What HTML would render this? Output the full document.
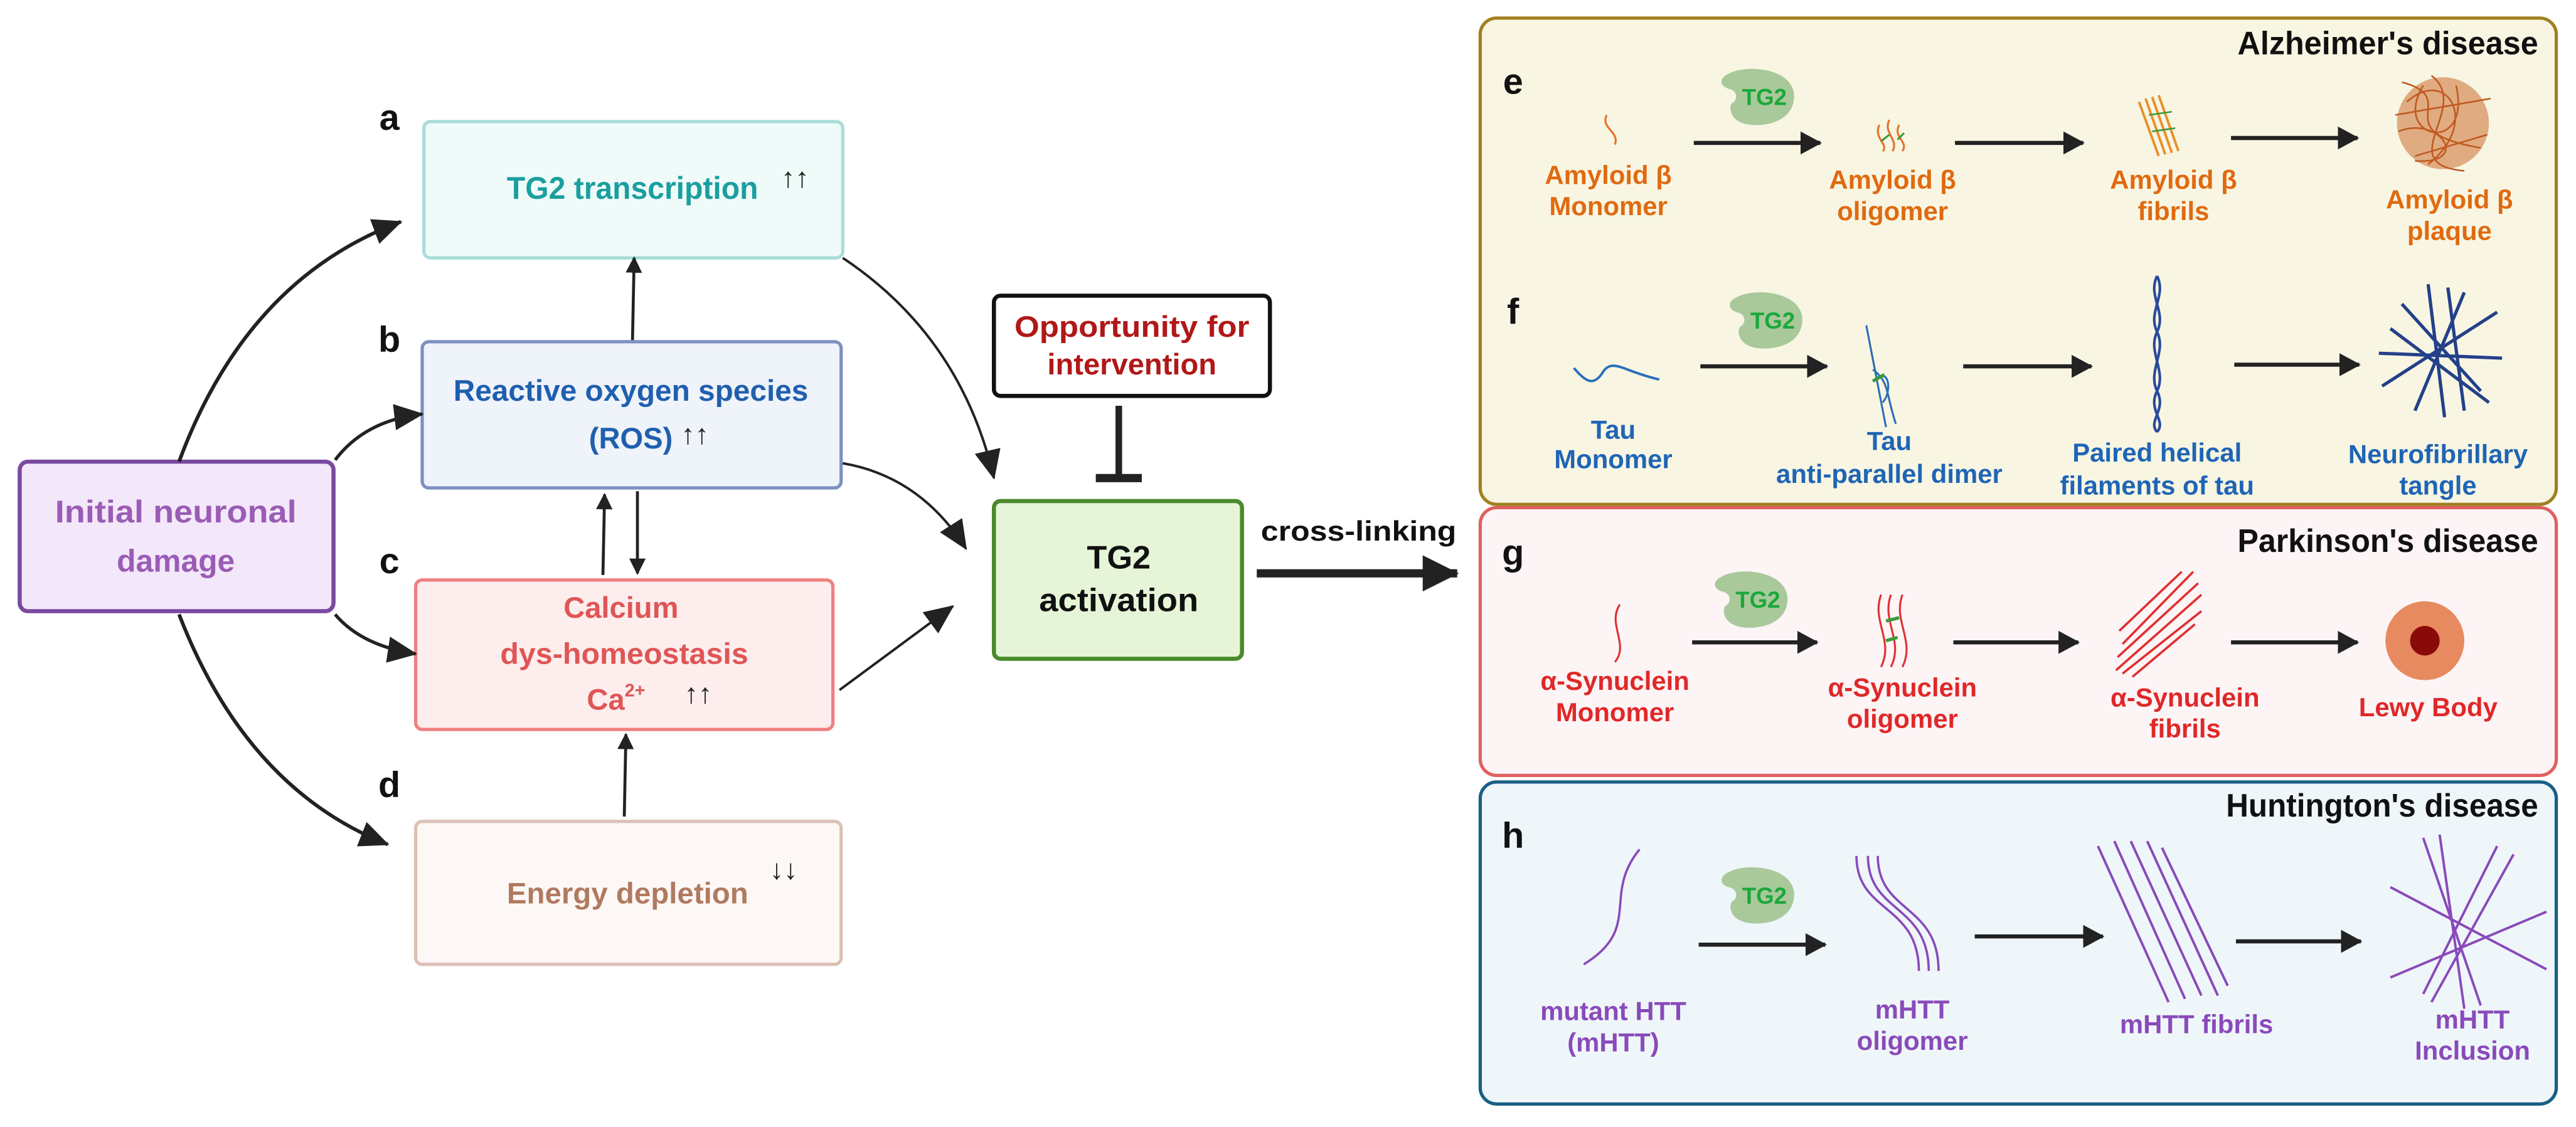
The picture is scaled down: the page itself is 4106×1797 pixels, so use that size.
<!DOCTYPE html>
<html><head><meta charset="utf-8"><style>
html,body{margin:0;padding:0;background:#fff;width:4106px;height:1797px;overflow:hidden}
svg{display:block}
text{font-family:"Liberation Sans",sans-serif;font-weight:bold}
</style></head><body>
<svg width="4106" height="1797" viewBox="0 0 1568 686" preserveAspectRatio="none" xmlns="http://www.w3.org/2000/svg">
<defs>
<marker id="ah" markerUnits="userSpaceOnUse" markerWidth="18" markerHeight="16" refX="17" refY="8" orient="auto"><path d="M0,0 L18,8 L0,16 Z" fill="#222"/></marker>
<marker id="as" markerUnits="userSpaceOnUse" markerWidth="10" markerHeight="10" refX="9" refY="5" orient="auto"><path d="M0,0 L10,5 L0,10 Z" fill="#222"/></marker>
<marker id="al" markerUnits="userSpaceOnUse" markerWidth="13" markerHeight="14" refX="12" refY="7" orient="auto"><path d="M0,0 L13,7 L0,14 Z" fill="#222"/></marker>
<marker id="ax" markerUnits="userSpaceOnUse" markerWidth="22" markerHeight="22" refX="21" refY="11" orient="auto"><path d="M0,0 L22,11 L0,22 Z" fill="#222"/></marker>
<g id="tg2"><path d="M-18,-14 C-8,-20 20,-18 22,-2 C23,12 10,18 -4,17 C-16,16 -18,8 -16,4 C-12,2 -12,-4 -18,-5 C-24,-7 -23,-12 -18,-14 Z" fill="#a9c99b"/><text x="4" y="5" font-size="14" fill="#1aa83a" text-anchor="middle">TG2</text></g>
</defs>

<!-- left boxes -->
<rect x="12" y="281" width="191" height="91" rx="5" fill="#f3e7fa" stroke="#7a4aa0" stroke-width="2.5"/>
<text x="107" y="318" font-size="19" fill="#9a5cb5" text-anchor="middle" textLength="147" lengthAdjust="spacingAndGlyphs">Initial neuronal</text>
<text x="107" y="348" font-size="19" fill="#9a5cb5" text-anchor="middle">damage</text>

<rect x="258" y="74" width="255" height="83" rx="4" fill="#effbf9" stroke="#a8ddd8" stroke-width="2"/>
<text x="385" y="121" font-size="19" fill="#1a9fa0" text-anchor="middle" textLength="153" lengthAdjust="spacingAndGlyphs">TG2 transcription</text>
<text x="484" y="114" font-size="17" fill="#222" text-anchor="middle">↑↑</text>

<rect x="257" y="208" width="255" height="89" rx="4" fill="#eff3fa" stroke="#7d91c0" stroke-width="2"/>
<text x="384" y="244" font-size="18" fill="#1f5fae" text-anchor="middle" textLength="216" lengthAdjust="spacingAndGlyphs">Reactive oxygen species</text>
<text x="384" y="273" font-size="18" fill="#1f5fae" text-anchor="middle">(ROS)</text>
<text x="423" y="270" font-size="17" fill="#222" text-anchor="middle">↑↑</text>

<rect x="253" y="353" width="254" height="91" rx="4" fill="#fdeded" stroke="#f08080" stroke-width="2"/>
<text x="378" y="376" font-size="18" fill="#e05555" text-anchor="middle">Calcium</text>
<text x="380" y="404" font-size="18" fill="#e05555" text-anchor="middle" textLength="151" lengthAdjust="spacingAndGlyphs">dys-homeostasis</text>
<text x="375" y="432" font-size="18" fill="#e05555" text-anchor="middle">Ca<tspan font-size="11" dy="-8">2+</tspan></text>
<text x="425" y="428" font-size="17" fill="#222" text-anchor="middle">↑↑</text>

<rect x="253" y="500" width="259" height="87" rx="4" fill="#fdf8f6" stroke="#dcc0b5" stroke-width="2"/>
<text x="382" y="550" font-size="18" fill="#b07a60" text-anchor="middle" textLength="147" lengthAdjust="spacingAndGlyphs">Energy depletion</text>
<text x="477" y="535" font-size="17" fill="#222" text-anchor="middle">↓↓</text>

<text x="237" y="79" font-size="22" fill="#111" text-anchor="middle">a</text>
<text x="237" y="214" font-size="22" fill="#111" text-anchor="middle">b</text>
<text x="237" y="349" font-size="22" fill="#111" text-anchor="middle">c</text>
<text x="237" y="485" font-size="22" fill="#111" text-anchor="middle">d</text>

<!-- arrows left -->
<g fill="none" stroke="#222">
<path d="M109,281 Q150,170 244,135" stroke-width="2.2" marker-end="url(#ah)"/>
<path d="M204,280 Q222,256 257,252" stroke-width="2" marker-end="url(#ah)"/>
<path d="M204,374 Q220,393 253,398" stroke-width="2" marker-end="url(#ah)"/>
<path d="M109,374 Q150,480 236,514" stroke-width="2.2" marker-end="url(#ah)"/>
<path d="M513,157 Q585,205 605,291" stroke-width="1.5" marker-end="url(#ah)"/>
<path d="M513,282 Q560,290 588,334" stroke-width="1.5" marker-end="url(#ah)"/>
<path d="M511,420 L580,369" stroke-width="1.5" marker-end="url(#ah)"/>
<path d="M385,207 L386,157" stroke-width="1.8" marker-end="url(#as)"/>
<path d="M367,350 L368,301" stroke-width="1.8" marker-end="url(#as)"/>
<path d="M388,299 L388,349" stroke-width="1.8" marker-end="url(#as)"/>
<path d="M380,497 L381,447" stroke-width="1.8" marker-end="url(#as)"/>
<path d="M681,247 L681,290" stroke-width="4"/>
<path d="M667,291 L695,291" stroke-width="5"/>
<path d="M765,349 L887,349" stroke-width="5" marker-end="url(#ax)"/>
</g>

<rect x="605" y="180" width="168" height="61" rx="4" fill="#fff" stroke="#111" stroke-width="2.5"/>
<text x="689" y="205" font-size="18" fill="#b01818" text-anchor="middle" textLength="143" lengthAdjust="spacingAndGlyphs">Opportunity for</text>
<text x="689" y="228" font-size="18" fill="#b01818" text-anchor="middle">intervention</text>

<rect x="605" y="305" width="151" height="96" rx="4" fill="#e6f5d8" stroke="#4a8a2a" stroke-width="2.5"/>
<text x="681" y="346" font-size="20" fill="#111" text-anchor="middle">TG2</text>
<text x="681" y="372" font-size="20" fill="#111" text-anchor="middle" textLength="97" lengthAdjust="spacingAndGlyphs">activation</text>
<text x="827" y="329" font-size="17" fill="#111" text-anchor="middle" textLength="119" lengthAdjust="spacingAndGlyphs">cross-linking</text>

<!-- panels -->
<rect x="901" y="11" width="655" height="296" rx="10" fill="#f8f6e3" stroke="#a08020" stroke-width="2"/>
<rect x="901" y="309" width="655" height="163" rx="10" fill="#fdf4f6" stroke="#e06060" stroke-width="2"/>
<rect x="901" y="476" width="655" height="196" rx="10" fill="#eef6fa" stroke="#1a5e85" stroke-width="2"/>

<text x="1545" y="33" font-size="20" fill="#111" text-anchor="end" textLength="183" lengthAdjust="spacingAndGlyphs">Alzheimer's disease</text>
<text x="1545" y="336" font-size="20" fill="#111" text-anchor="end" textLength="183" lengthAdjust="spacingAndGlyphs">Parkinson's disease</text>
<text x="1545" y="497" font-size="20" fill="#111" text-anchor="end" textLength="190" lengthAdjust="spacingAndGlyphs">Huntington's disease</text>
<text x="921" y="57" font-size="22" fill="#111" text-anchor="middle">e</text>
<text x="921" y="197" font-size="22" fill="#111" text-anchor="middle">f</text>
<text x="921" y="344" font-size="22" fill="#111" text-anchor="middle">g</text>
<text x="921" y="516" font-size="22" fill="#111" text-anchor="middle">h</text>

<use href="#tg2" x="1070" y="59"/>
<use href="#tg2" x="1075" y="195"/>
<use href="#tg2" x="1066" y="365"/>
<use href="#tg2" x="1070" y="545"/>

<g fill="none" stroke="#222" stroke-width="2.5">
<path d="M1031,87 L1108,87" marker-end="url(#al)"/>
<path d="M1190,87 L1268,87" marker-end="url(#al)"/>
<path d="M1358,84 L1435,84" marker-end="url(#al)"/>
<path d="M1035,223 L1112,223" marker-end="url(#al)"/>
<path d="M1195,223 L1273,223" marker-end="url(#al)"/>
<path d="M1360,222 L1436,222" marker-end="url(#al)"/>
<path d="M1030,391 L1106,391" marker-end="url(#al)"/>
<path d="M1189,391 L1265,391" marker-end="url(#al)"/>
<path d="M1358,391 L1435,391" marker-end="url(#al)"/>
<path d="M1034,575 L1111,575" marker-end="url(#al)"/>
<path d="M1202,570 L1280,570" marker-end="url(#al)"/>
<path d="M1361,573 L1437,573" marker-end="url(#al)"/>
</g>

<!-- icons -->
<g fill="none" stroke-width="1.2">
<path d="M978,70 C974,78 986,80 983,88" stroke="#e8702a"/>
<path d="M1144,76 C1140,84 1150,88 1146,92 M1150,73 C1146,81 1156,85 1152,92 M1156,76 C1152,84 1162,86 1158,92" stroke="#e8702a"/>
<path d="M1145,86 L1150,82 M1155,85 L1159,81" stroke="#3a9a3a"/>
<g stroke="#e8902a" stroke-width="1.5"><path d="M1306,60 L1318,94 M1310,59 L1322,93 M1314,58 L1326,92 M1302,62 L1314,95"/></g>
<path d="M1308,70 L1322,68 M1310,80 L1324,78" stroke="#3a9a3a" stroke-width="1"/>
<ellipse cx="1487" cy="75" rx="28" ry="28" fill="#d07a40" opacity="0.6" stroke="none"/>
<g stroke="#c05a20" stroke-width="1"><path d="M1462,50 C1500,60 1450,80 1510,90 M1465,62 C1490,40 1510,75 1478,100 M1475,52 C1455,85 1505,95 1495,52 M1460,80 C1485,70 1505,100 1470,98 M1480,46 C1505,65 1455,100 1500,104 M1458,70 L1516,60 M1470,95 L1514,82"/></g>
<path d="M958,224 C965,232 970,236 976,226 C982,218 988,226 1010,231" stroke="#2a6fba" stroke-width="1.5"/>
<path d="M1136,198 L1148,260 M1140,225 C1150,232 1148,240 1154,258 M1140,232 C1150,222 1152,238 1146,245" stroke="#2a6fba"/>
<path d="M1140,232 L1147,228" stroke="#3a9a3a" stroke-width="2"/>
<path d="M1313,168 C1319,180 1307,190 1313,202 C1319,214 1307,226 1313,238 C1319,250 1307,256 1313,263 M1313,168 C1307,180 1319,190 1313,202 C1307,214 1319,226 1313,238 C1307,250 1319,256 1313,263" stroke="#2a4a9a" stroke-width="1.6"/>
<g stroke="#24408a" stroke-width="2"><path d="M1478,173 L1488,254 M1455,200 L1515,245 M1450,235 L1520,190 M1500,178 L1470,250 M1448,215 L1523,218 M1462,185 L1510,238 M1490,175 L1500,250"/></g>
<path d="M986,368 C978,380 992,392 983,403" stroke="#e03030"/>
<path d="M1145,362 C1139,378 1153,390 1145,406 M1151,362 C1145,378 1159,390 1151,406 M1158,362 C1152,378 1166,390 1158,406" stroke="#e03030"/>
<path d="M1148,378 L1156,376 M1148,390 L1155,388" stroke="#3a9a3a" stroke-width="2"/>
<g stroke="#e03030" stroke-width="1.4"><path d="M1292,392 L1335,348 M1289,400 L1338,355 M1288,408 L1340,362 M1292,410 L1340,372 M1298,412 L1336,380 M1290,384 L1328,348"/></g>
<circle cx="1476" cy="390" r="24" fill="#e88a60" stroke="none"/>
<circle cx="1476" cy="390" r="9" fill="#8a0a0a" stroke="none"/>
<path d="M998,517 C975,545 1000,565 964,587" stroke="#8a4aba" stroke-width="1.4"/>
<path d="M1130,521 C1130,556 1168,550 1168,591 M1137,521 C1137,556 1174,550 1174,591 M1143,521 C1143,556 1180,550 1180,591" stroke="#8a4aba" stroke-width="1.4"/>
<g stroke="#8a4aba" stroke-width="1.5"><path d="M1277,515 L1320,610 M1287,512 L1330,608 M1297,512 L1340,606 M1307,512 L1350,606 M1316,516 L1356,600"/></g>
<g stroke="#8a4aba" stroke-width="1.5"><path d="M1475,510 L1510,612 M1485,508 L1500,614 M1455,540 L1550,590 M1455,595 L1550,555 M1530,520 L1480,610 M1520,515 L1475,605"/></g>
</g>

<!-- panel labels -->
<g font-size="16" text-anchor="middle">
<g fill="#e06a10">
<text x="979" y="112">Amyloid β</text><text x="979" y="131">Monomer</text>
<text x="1152" y="115">Amyloid β</text><text x="1152" y="134">oligomer</text>
<text x="1323" y="115">Amyloid β</text><text x="1323" y="134">fibrils</text>
<text x="1491" y="127">Amyloid β</text><text x="1491" y="146">plaque</text>
</g>
<g fill="#1f65b5">
<text x="982" y="267">Tau</text><text x="982" y="285">Monomer</text>
<text x="1150" y="274">Tau</text><text x="1150" y="294">anti-parallel dimer</text>
<text x="1313" y="281">Paired helical</text><text x="1313" y="301">filaments of tau</text>
<text x="1484" y="282">Neurofibrillary</text><text x="1484" y="301">tangle</text>
</g>
<g fill="#e02828">
<text x="983" y="420">α-Synuclein</text><text x="983" y="439">Monomer</text>
<text x="1158" y="424">α-Synuclein</text><text x="1158" y="443">oligomer</text>
<text x="1330" y="430">α-Synuclein</text><text x="1330" y="449">fibrils</text>
<text x="1478" y="436">Lewy Body</text>
</g>
<g fill="#8a4aba">
<text x="982" y="621">mutant HTT</text><text x="982" y="640">(mHTT)</text>
<text x="1164" y="620">mHTT</text><text x="1164" y="639">oligomer</text>
<text x="1337" y="629">mHTT fibrils</text>
<text x="1505" y="626">mHTT</text><text x="1505" y="645">Inclusion</text>
</g>
</g>
</svg>
</body></html>
